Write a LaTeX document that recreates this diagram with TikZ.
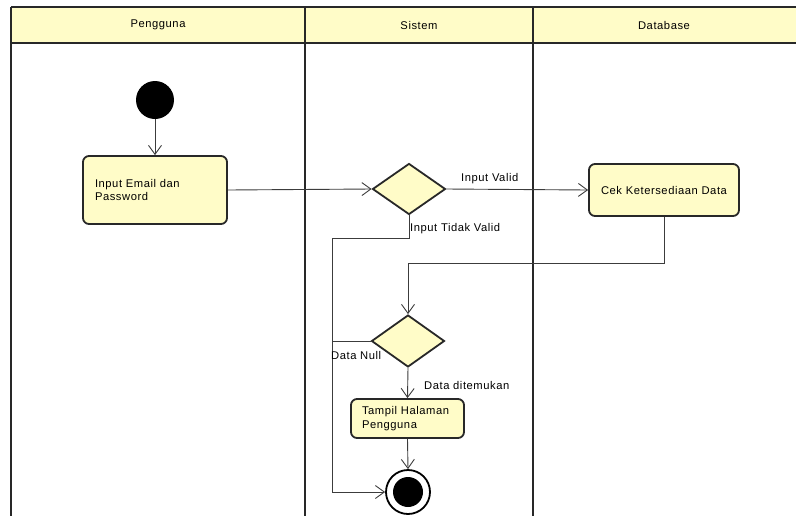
\documentclass[tikz,border=0pt]{standalone}
\usepackage{fontspec}
\setmainfont{Liberation Sans}[LetterSpace=5]
\usetikzlibrary{shapes.geometric,arrows.meta}
\definecolor{umlfill}{RGB}{255,252,200}
\definecolor{umlline}{RGB}{40,40,40}
\definecolor{flowline}{RGB}{60,60,60}
\tikzset{
  x=1pt,y=-1pt,
  every node/.style={font=\fontsize{11.2}{13.8}\selectfont},
  lane/.style={draw=umlline,line width=2pt},
  action/.style={draw=umlline,fill=umlfill,line width=1.8pt,rounded corners=6pt,inner ysep=4pt},
  decision/.style={diamond,draw=umlline,fill=umlfill,line width=1.8pt,inner sep=0pt},
  flow/.style={draw=flowline,line width=0.9pt,-{Straight Barb[length=9pt,width=13pt,line width=0.9pt]}},
  plain/.style={draw=flowline,line width=0.9pt},
  lbl/.style={inner sep=0pt,anchor=west,text=black},
}
\begin{document}
\begin{tikzpicture}
\useasboundingbox (0,0) rectangle (796,515);
\clip (0,0) rectangle (796,515);
% swimlanes
\fill[umlfill] (11,7) rectangle (800,43);
\draw[lane] (11,7) -- (800,7);
\draw[lane] (11,43) -- (800,43);
\draw[lane] (11,7) -- (11,520);
\draw[lane] (305,7) -- (305,520);
\draw[lane] (533,7) -- (533,520);
\node (hP) at (158,25) {Pengguna};
\node (hS) at (419,25) {Sistem};
\node (hD) at (664,25) {Database};
% nodes
\node[circle,fill=black,minimum size=38pt,inner sep=0pt] (init) at (155,100) {};
\node[action,text width=120pt,inner xsep=12pt,minimum height=68pt,align=left] (input) at (155,190) {Input Email dan\\Password};
\node[decision,minimum width=73pt,minimum height=51pt] (d1) at (409,189) {};
\node[action,minimum width=150pt,minimum height=52pt] (cek) at (664,190) {Cek Ketersediaan Data};
\node[decision,minimum width=73pt,minimum height=52pt] (d2) at (408,341) {};
\node[action,text width=91pt,inner xsep=11pt,minimum height=39pt,align=left] (tampil) at (407.5,418.5) {Tampil Halaman\\Pengguna};
\node[circle,draw=black,fill=white,line width=1.8pt,minimum size=44pt,inner sep=0pt] (final) at (408,492) {};
\node[circle,fill=black,minimum size=30pt,inner sep=0pt] (finalin) at (final.center) {};
\coordinate (c1) at (332,238);
\coordinate (c2) at (332,492);
\coordinate (c3) at (408,263);
% connectors
\draw[flow] (init) -- (input);
\draw[flow] (input.east) -- (d1.west);
\draw[flow] (d1.east) -- (cek.west);
\draw[flow] (cek.south) |- (c3) -- (d2.north);
\draw[flow] (d1.south) |- (c1) -- (c2) -- (final.west);
\draw[plain] (d2.west) -- (d2.west -| c1);
\draw[flow] (d2.south) -- (tampil.north);
\draw[flow] (tampil.south) -- (final.north);
% labels
\node[lbl] (l1) at (461,179) {Input Valid};
\node[lbl] (l2) at (410,229) {Input Tidak Valid};
\node[lbl] (l3) at (331,355) {Data Null};
\node[lbl] (l4) at (424,385) {Data ditemukan};
\end{tikzpicture}
\end{document}
